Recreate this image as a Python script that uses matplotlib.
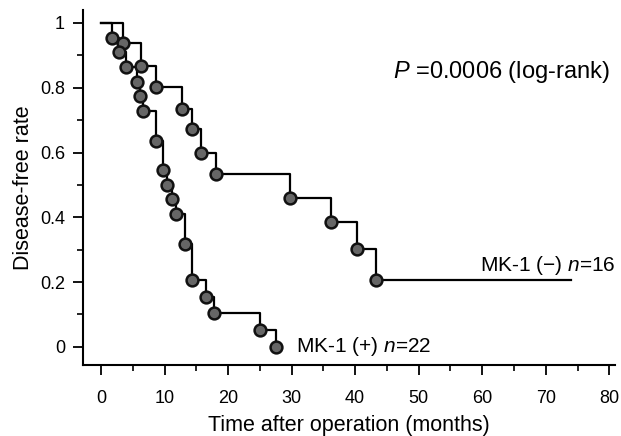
import matplotlib
matplotlib.use("Agg")
import matplotlib.pyplot as plt
from matplotlib.ticker import MultipleLocator, FixedFormatter, FixedLocator

plt.rcParams['font.family'] = ['Liberation Sans', 'DejaVu Sans']
plt.rcParams['mathtext.fontset'] = 'custom'
plt.rcParams['mathtext.it'] = 'Liberation Sans:italic'
plt.rcParams['mathtext.rm'] = 'Liberation Sans'

# MK-1 (+) group, n=22: event times (months) and survival after each step
plus_t = [0, 1.8, 2.9, 3.9, 5.6, 6.1, 6.6, 8.7, 9.8, 10.4, 11.1, 11.8, 13.3, 14.3, 16.5, 17.8, 25.1, 27.6]
plus_s = [1, 0.955, 0.909, 0.864, 0.818, 0.773, 0.727, 0.636, 0.545, 0.5, 0.455, 0.409, 0.318, 0.205, 0.153, 0.104, 0.053, 0]

# MK-1 (-) group, n=16
minus_t = [0, 3.4, 6.3, 8.7, 12.7, 14.3, 15.7, 18.1, 29.7, 36.2, 40.3, 43.3]
minus_s = [1, 0.938, 0.867, 0.803, 0.734, 0.672, 0.600, 0.534, 0.461, 0.386, 0.303, 0.205]
minus_last = 73.9

x_ticks = [0, 10, 20, 30, 40, 50, 60, 70, 80]
y_ticks = [0, 0.2, 0.4, 0.6, 0.8, 1]
y_tick_labels = ['0', '0.2', '0.4', '0.6', '0.8', '1']

fig = plt.figure(figsize=(6.21, 4.36), dpi=100)
ax = fig.add_axes([83 / 621, 1 - 365 / 436, 532 / 621, 355 / 436])

marker_kw = dict(marker='o', linestyle='none', markersize=8.5,
                 markerfacecolor='#666666', markeredgecolor='#111111',
                 markeredgewidth=1.8, zorder=3)

# step lines
ax.step(minus_t + [minus_last], minus_s + [minus_s[-1]], where='post',
        color='black', linewidth=1.6, zorder=2)
ax.step(plus_t, plus_s, where='post', color='black', linewidth=1.6, zorder=2)

# event markers
ax.plot(minus_t[1:], minus_s[1:], **marker_kw)
ax.plot(plus_t[1:], plus_s[1:], **marker_kw)

ax.set_xlim(-2.83, 80.9)
ax.set_ylim(-0.056, 1.04)

ax.xaxis.set_major_locator(FixedLocator(x_ticks))
ax.xaxis.set_minor_locator(MultipleLocator(5))
ax.yaxis.set_major_locator(FixedLocator(y_ticks))
ax.yaxis.set_major_formatter(FixedFormatter(y_tick_labels))
ax.yaxis.set_minor_locator(MultipleLocator(0.1))

ax.tick_params(which='major', direction='out', length=7, width=1.3, labelsize=13)
ax.tick_params(axis='x', which='major', pad=11)
ax.tick_params(axis='y', which='major', pad=6)
ax.tick_params(which='minor', direction='out', length=4, width=1.2)

for side in ['top', 'right']:
    ax.spines[side].set_visible(False)
for side in ['left', 'bottom']:
    ax.spines[side].set_linewidth(1.5)

ax.set_xlabel('Time after operation (months)', fontsize=15.5, labelpad=6)
ax.set_ylabel('Disease-free rate', fontsize=15.5, labelpad=4)

ax.text(46, 0.849, '$P$ =0.0006 (log-rank)', fontsize=17, va='center', ha='left')
ax.text(59.7, 0.25, 'MK-1 (\u2212) $n$=16', fontsize=15, va='center', ha='left')
ax.text(30.7, 0.0, 'MK-1 (+) $n$=22', fontsize=15, va='center', ha='left')

fig.savefig('out.png', dpi=100)
